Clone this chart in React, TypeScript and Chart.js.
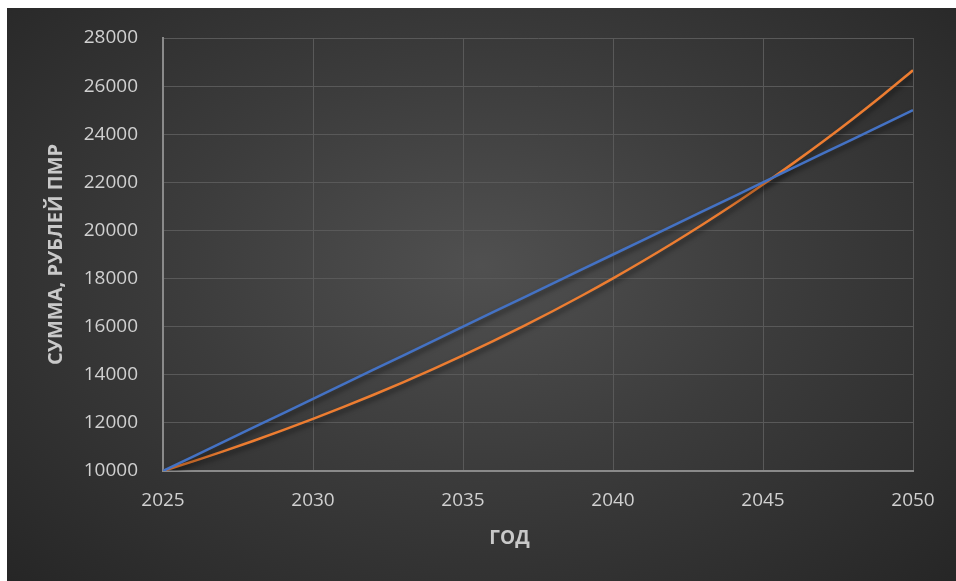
import React, { useEffect, useRef } from "react";
import { Chart, registerables } from "chart.js";

Chart.register(...registerables);

const years = [2025, 2026, 2027, 2028, 2029, 2030, 2031, 2032, 2033, 2034, 2035, 2036, 2037, 2038, 2039, 2040, 2041, 2042, 2043, 2044, 2045, 2046, 2047, 2048, 2049, 2050];
const linearSeries = [10000, 10600, 11200, 11800, 12400, 13000, 13600, 14200, 14800, 15400, 16000, 16600, 17200, 17800, 18400, 19000, 19600, 20200, 20800, 21400, 22000, 22600, 23200, 23800, 24400, 25000];
const compoundSeries = [10000, 10400, 10816, 11249, 11699, 12167, 12653, 13159, 13686, 14233, 14802, 15395, 16010, 16651, 17317, 18009, 18730, 19479, 20258, 21068, 21911, 22788, 23699, 24647, 25633, 26658];
const yTitle = "СУММА, РУБЛЕЙ ПМР";
const xTitle = "ГОД";

const FONT = "'Open Sans', 'Noto Sans', sans-serif";

export default function App() {
  const ref = useRef<HTMLCanvasElement | null>(null);

  useEffect(() => {
    if (!ref.current) return;
    const shadowPlugin = {
      id: "lineShadow",
      beforeDatasetsDraw(chart: any) {
        const ctx = chart.ctx;
        ctx.save();
        ctx.shadowColor = "rgba(0,0,0,0.55)";
        ctx.shadowBlur = 5;
        ctx.shadowOffsetX = 2;
        ctx.shadowOffsetY = 3;
      },
      afterDatasetsDraw(chart: any) {
        chart.ctx.restore();
      },
    };
    const xTitlePlugin = {
      id: "xTitle",
      afterDraw(chart: any) {
        const ctx = chart.ctx;
        const a = chart.chartArea;
        ctx.save();
        ctx.font = `bold 19px ${FONT}`;
        ctx.fillStyle = "#c9c9c9";
        ctx.textAlign = "center";
        ctx.textBaseline = "middle";
        ctx.fillText(xTitle, a.left + (a.right - a.left) * 0.462, a.bottom + 68);
        ctx.restore();
      },
    };
    const chart = new Chart(ref.current, {
      type: "line",
      data: {
        datasets: [
          {
            label: "linear",
            data: years.map((x, i) => ({ x, y: linearSeries[i] })),
            borderColor: "#4472C4",
            borderWidth: 2.5,
            pointRadius: 0,
            tension: 0,
          },
          {
            label: "compound",
            data: years.map((x, i) => ({ x, y: compoundSeries[i] })),
            borderColor: "#ED7D31",
            borderWidth: 2.5,
            pointRadius: 0,
            cubicInterpolationMode: "monotone",
          },
        ],
      },
      options: {
        animation: false,
        responsive: true,
        maintainAspectRatio: false,
        layout: { padding: { top: 30, right: 43, bottom: 0, left: 0 } },
        plugins: { legend: { display: false }, tooltip: { enabled: false } },
        scales: {
          x: {
            type: "linear",
            min: 2025,
            max: 2050,
            afterFit: (s: any) => {
              s.height = 110;
            },
            ticks: {
              stepSize: 5,
              color: "#d0d0d0",
              font: { family: FONT, size: 19 },
              padding: 18,
              maxRotation: 0,
              callback: (v: any) => String(v),
            },
            grid: { color: "#595959", lineWidth: 1, drawTicks: false },
            border: { color: "#8a8a8a", width: 2 },
          },
          y: {
            min: 10000,
            max: 28000,
            afterFit: (s: any) => {
              s.width = 156;
            },
            ticks: {
              stepSize: 2000,
              color: "#d0d0d0",
              font: { family: FONT, size: 19 },
              padding: 0,
              callback: (v: any) => String(v),
            },
            grid: {
              color: "#595959",
              lineWidth: 1,
              drawTicks: true,
              tickLength: 25,
              tickColor: "rgba(0,0,0,0)",
            },
            border: { color: "#8a8a8a", width: 2 },
            title: {
              display: true,
              text: yTitle,
              color: "#c9c9c9",
              font: { family: FONT, size: 20, weight: "bold" },
              padding: { top: 37, bottom: 0 },
            },
          },
        },
      },
      plugins: [shadowPlugin, xTitlePlugin],
    } as any);
    return () => chart.destroy();
  }, []);

  return (
    <div
      style={{
        position: "fixed",
        left: 7,
        top: 8,
        width: 949,
        height: 573,
        background:
          "radial-gradient(ellipse farthest-corner at 50% 45%, #505050 0%, #3c3c3c 45%, #262626 100%)",
      }}
    >
      <canvas ref={ref} />
    </div>
  );
}
